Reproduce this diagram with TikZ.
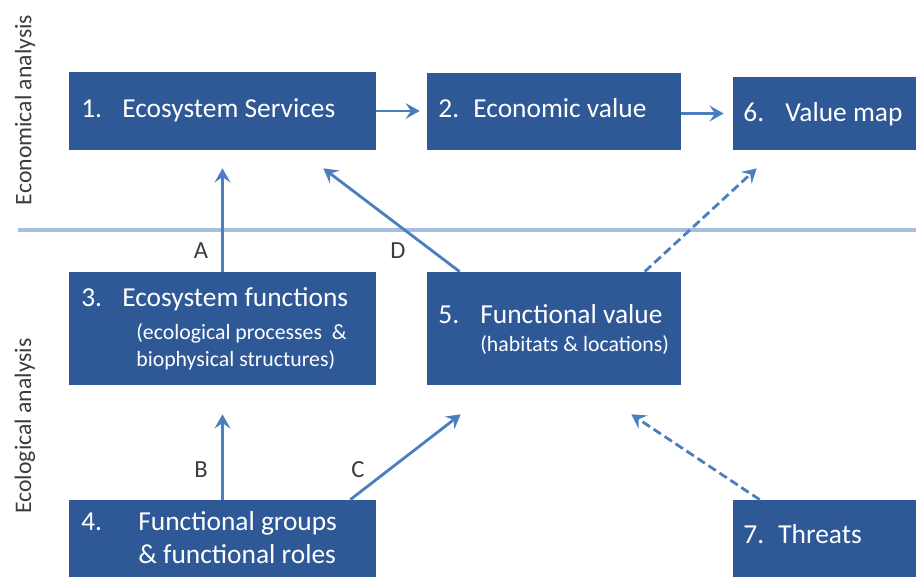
\documentclass[tikz,border=0pt]{standalone}
\usepackage{fontspec}
\setmainfont{Carlito}
\usetikzlibrary{arrows.meta, positioning, calc}
\definecolor{boxblue}{RGB}{46,89,150}
\definecolor{arrowblue}{RGB}{74,126,190}
\definecolor{lineblue}{RGB}{168,190,222}
\definecolor{labelgray}{RGB}{60,60,60}

\begin{document}
\begin{tikzpicture}[x=0.02cm, y=-0.02cm,
    box/.style={rectangle, fill=boxblue, draw=none, inner sep=0pt},
    num/.style={anchor=base west, inner sep=0pt, text=white, font=\fontsize{15.6}{18}\selectfont},
    txt/.style={anchor=base west, inner sep=0pt, text=white, font=\fontsize{15.6}{18}\selectfont},
    sub/.style={anchor=base west, inner sep=0pt, text=white, font=\fontsize{12.4}{15}\selectfont},
    side/.style={rotate=90, inner sep=0pt, text=labelgray, font=\fontsize{13.5}{16}\selectfont},
    letter/.style={inner sep=0pt, text=labelgray, font=\fontsize{14}{17}\selectfont},
    arr/.style={draw=arrowblue, line width=1.6pt, -{Stealth[length=8pt, width=9pt, inset=3pt]}},
    dashedarr/.style={arr, dash pattern=on 5pt off 2.5pt}]
    \useasboundingbox (0,0) rectangle (916,577);

    % the divider between the two analyses
    \draw[lineblue, line width=2.5pt] (18,230) -- (916,230);
    \node[side] (econ) at (25,110) {Economical analysis};
    \node[side] (ecol) at (25,426) {Ecological analysis};

    % Add the boxes
        \node[box,
              minimum width=6.14cm,
              minimum height=1.56cm] (es) at (222.5,111) {};
        \node[box,
              minimum width=5.08cm,
              minimum height=1.54cm] (ev) at (554,111.5) {};
        \node[box,
              minimum width=3.74cm,
              minimum height=1.46cm] (vm) at (826.5,113.5) {};
        \node[box,
              minimum width=6.14cm,
              minimum height=2.26cm] (fn) at (222.5,328.5) {};
        \node[box,
              minimum width=5.08cm,
              minimum height=2.26cm] (fv) at (554,328.5) {};
        \node[box,
              minimum width=6.14cm,
              minimum height=1.6cm] (fg) at (222.5,540) {};
        \node[box,
              minimum width=3.74cm,
              minimum height=1.6cm] (th) at (826.5,540) {};

    % Texts in the boxes
        \node[num] (n1) at (81,118) {1.};
        \node[txt] (t1) at (122,118) {Ecosystem Services};
        \node[num] (n2) at (438,118) {2.};
        \node[txt] (t2) at (473,118) {Economic value};
        \node[num] (n6) at (743,122) {6.};
        \node[txt] (t6) at (785,122) {Value map};
        \node[num] (n3) at (81,307) {3.};
        \node[txt] (t3) at (122,307) {Ecosystem functions};
        \node[sub] (s3a) at (136,340) {(ecological processes\ \ \&};
        \node[sub] (s3b) at (136,367) {biophysical structures)};
        \node[num] (n5) at (438,324) {5.};
        \node[txt] (t5) at (480,324) {Functional value};
        \node[sub] (s5) at (480,352) {(habitats \& locations)};
        \node[num] (n4) at (81,530) {4.};
        \node[txt] (t4a) at (138,530) {Functional groups};
        \node[txt] (t4b) at (138,563) {\& functional roles};
        \node[num] (n7) at (743,543) {7.};
        \node[txt] (t7) at (778,543) {Threats};

    % Add the arrows
        \draw[arr, shorten >=0.14cm] (es.east) -- (es.east -| ev.west);
        \draw[arr, shorten >=0.18cm] (ev.east |- vm.west) -- (vm.west);
        \draw[arr] (fn.north) -- ($(fn.north |- es.south)+(0,18)$);
        \draw[arr] ($(fv.north west)+(33,0)$) -- ($(es.south east)+(-53,18)$);
        \draw[dashedarr] ($(fv.north west)+(218,0)$) -- ($(vm.south west)+(24,18)$);
        \draw[arr] (fg.north) -- ($(fn.south)+(0,29)$);
        \draw[arr] ($(fg.north east)+(-26,0)$) -- ($(fv.south west)+(34,29)$);
        \draw[dashedarr] ($(th.north west)+(27,0)$) -- ($(fv.south east)+(-50,29)$);

    % Letters on the arrows
        \node[letter] (la) at (201,251) {A};
        \node[letter] (ld) at (398,251) {D};
        \node[letter] (lb) at (201,470) {B};
        \node[letter] (lc) at (358,470) {C};
\end{tikzpicture}
\end{document}
